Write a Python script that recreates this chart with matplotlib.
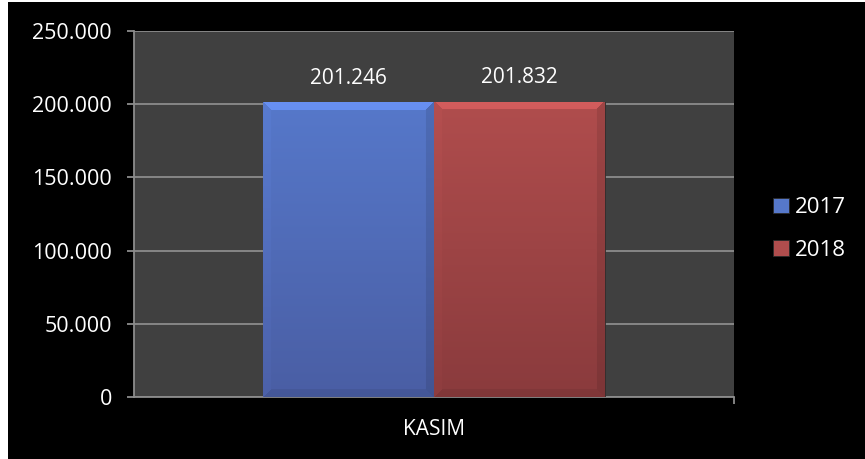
import matplotlib
matplotlib.use("Agg")
import matplotlib.pyplot as plt
import numpy as np
from matplotlib.patches import Rectangle
from matplotlib.ticker import FuncFormatter
from matplotlib.colors import to_rgb

categories = ["KASIM"]
series_names = ["2017", "2018"]
values_2017 = [201246]
values_2018 = [201832]
yticks = [0, 50000, 100000, 150000, 200000, 250000]

plt.rcParams['font.family'] = ['Open Sans', 'DejaVu Sans']

fig = plt.figure(figsize=(8.65, 4.59), dpi=100, facecolor='white')
# black chart background with thin white margin (left/top) as in the reference
fig.patches.append(Rectangle((8/865, 0), 1 - 8/865, 1 - 2/459, transform=fig.transFigure,
                             facecolor='black', edgecolor='none', zorder=-10))
ax = fig.add_axes([134/865, 1-397/459, (734-134)/865, (397-31)/459])
ax.set_zorder(1)
ax.set_facecolor('#404040')

def fmt(v, pos=None):
    return f"{int(round(v)):,}".replace(",", ".")

def bevel_image(top, bot, nx=170, ny=295, b=8):
    top = np.array(to_rgb(top)); bot = np.array(to_rgb(bot))
    yy, xx = np.mgrid[0:ny, 0:nx]
    t = yy / (ny - 1)  # 0 bottom .. 1 top (origin lower)
    img = bot[None, None, :] * (1 - t[..., None]) + top[None, None, :] * t[..., None]
    dl = xx; dr = nx - 1 - xx; dt = ny - 1 - yy; db = yy
    d = np.stack([dl, dr, dt, db], axis=-1)
    m = d.min(axis=-1)
    which = d.argmin(axis=-1)
    inb = m < b
    fac = np.ones((ny, nx))
    fac[inb & (which == 2)] = 1.2
    fac[inb & (which == 0)] = 1.03
    fac[inb & (which == 1)] = 0.9
    fac[inb & (which == 3)] = 0.93
    img = np.clip(img * fac[..., None], 0, 1)
    return img

x = np.arange(len(categories))
w = 0.285
colors_top = ['#5678CA', '#B04D4D']
colors_bot = ['#4A5EA4', '#8A3B3D']
series = [values_2017, values_2018]
for i, (vals, name) in enumerate(zip(series, series_names)):
    off = (i - 0.5) * w
    bars = ax.bar(x + off, vals, width=w, color=colors_top[i], label=name,
                  edgecolor='#2a2a2a', linewidth=0.6, zorder=3)
    for b in bars:
        img = bevel_image(colors_top[i], colors_bot[i])
        im = ax.imshow(img, aspect='auto', origin='lower', interpolation='bilinear',
                       extent=[b.get_x(), b.get_x() + b.get_width(), 0, b.get_height()],
                       zorder=3.5)
        im.set_clip_path(b)
        ax.annotate(fmt(b.get_height()), (b.get_x() + b.get_width()/2, b.get_height()),
                    xytext=(0, 9.5), textcoords='offset points', ha='center', va='bottom',
                    color='white', fontsize=15)

ax.set_xlim(-0.5, 0.5)
ax.set_ylim(0, 250000)
ax.set_yticks(yticks)
ax.yaxis.set_major_formatter(FuncFormatter(fmt))
ax.set_xticks(x)
ax.set_xticklabels(categories)
ax.grid(axis='y', color='#8C8C8C', linewidth=1.3, zorder=1)
ax.set_axisbelow(True)
for s in ['top', 'right']:
    ax.spines[s].set_visible(False)
for s in ['left', 'bottom']:
    ax.spines[s].set_color('#8C8C8C')
    ax.spines[s].set_linewidth(1.3)
ax.tick_params(axis='y', colors='white', labelsize=15.5, length=5, width=1.3, color='#8C8C8C', pad=11)
ax.tick_params(axis='x', colors='white', labelsize=15, length=0, pad=16)
ax.set_xticks([0.5], minor=True)
ax.tick_params(axis='x', which='minor', length=5, width=1.3, color='#8C8C8C')

leg = fig.legend(loc='center left', bbox_to_anchor=(773/865, 1 - 229/459), frameon=False,
                 fontsize=16, labelcolor='white', handlelength=0.7, handleheight=0.7,
                 handletextpad=0.3, labelspacing=0.95, borderpad=0, borderaxespad=0)
leg.set_zorder(2)
fig.savefig('out.png', dpi=100, facecolor='white')
